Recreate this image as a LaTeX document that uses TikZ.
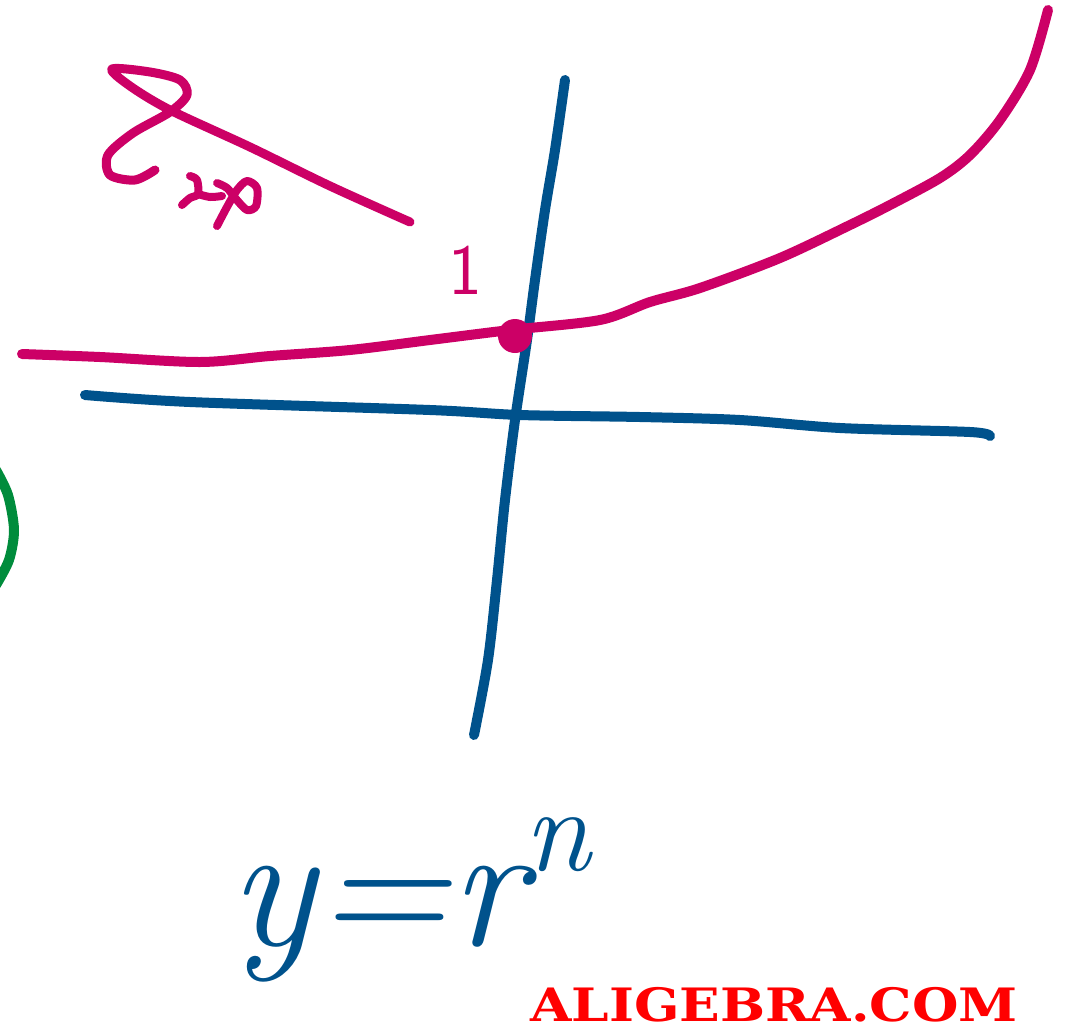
\documentclass[tikz,border=0pt]{standalone}
\usepackage{fontspec}
\newfontfamily\wmfont[FakeStretch=1.16]{DejaVu Serif}
\definecolor{inkblue}{RGB}{0,82,140}
\definecolor{inkpink}{RGB}{204,0,102}
\definecolor{inkgreen}{RGB}{0,140,60}
\begin{document}
\begin{tikzpicture}[x=1pt,y=-1pt,
  pen/.style={line width=10pt,line cap=round,line join=round},
  bluepen/.style={pen,draw=inkblue},
  pinkpen/.style={pen,draw=inkpink},
  greenpen/.style={pen,draw=inkgreen}]
\useasboundingbox (0,0) rectangle (1066,1034);
% green arc at left edge
\draw[greenpen] plot[smooth] coordinates {(-4,470) (8,495) (14,530) (9,560) (-4,585)};
% blue axes
\draw[bluepen] plot[smooth] coordinates {(565,80) (555,150) (545,210) (535,280) (527,340) (515,420) (505,500) (497,580) (488,660) (474,735)};
\draw[bluepen] plot[smooth] coordinates {(85,395) (190,402) (430,410) (520,415) (640,417) (740,420) (840,428) (970,432) (990,436)};
% pink exponential curve
\draw[pinkpen] plot[smooth] coordinates {(22,354) (100,357) (200,362) (270,356) (350,350) (430,340) (510,330) (600,320) (650,302) (700,288) (780,258) (850,225) (890,205) (940,178) (970,155) (1000,120) (1030,70) (1048,10)};
\fill[inkpink] (515,336) circle (17);
% label 1
\node[text=inkpink,font=\fontsize{72}{72}\selectfont\sffamily] (one) at (465,270) {1};
% pink scribble (exp)
\draw[pinkpen,line width=9pt] plot[smooth] coordinates {(410,222) (330,186) (250,147) (170,110) (130,86) (112,69) (150,72) (180,80) (187,95) (170,112) (133,133) (108,155) (110,175) (135,180) (155,170)};
\draw[pinkpen,line width=8pt] plot[smooth] coordinates {(182,205) (190,198) (198,194) (197,180) (190,176)};
\draw[pinkpen,line width=8pt] plot[smooth] coordinates {(198,194) (210,197) (222,196)};
\draw[pinkpen,line width=8pt] plot[smooth] coordinates {(217,226) (227,207) (237,190) (247,181) (257,188) (256,206) (247,210) (236,199) (227,188) (217,183)};
% y = r^n
\node[text=inkblue,font=\fontsize{180}{180}\selectfont,inner sep=0pt] (formula) at (410,900) {\itshape y=r\raisebox{0.42em}{\fontsize{120}{120}\selectfont n}};
% watermark
\node[text=red,font=\fontsize{46}{46}\selectfont\wmfont\bfseries,anchor=base,inner sep=0pt] (wm) at (774,1021) {ALIGEBRA.COM};
\end{tikzpicture}
\end{document}
